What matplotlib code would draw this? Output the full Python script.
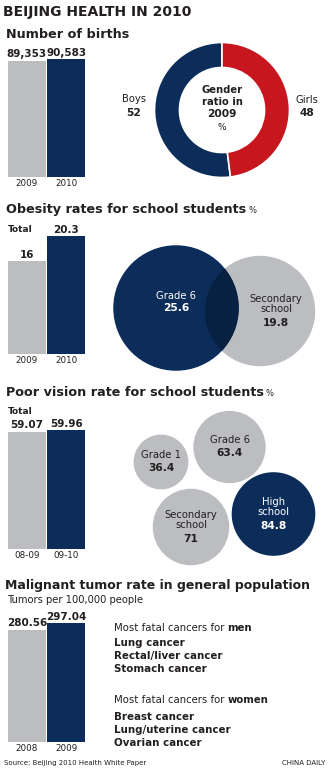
import numpy as np
import matplotlib
matplotlib.use('Agg')
import matplotlib.pyplot as plt
from matplotlib.patches import Circle

W, H = 329, 771

NAVY = '#0c2d5a'
GRAY = '#bcbdc0'
RED = '#c7161d'
DARK = '#072143'
TXT = '#231f20'

# --- dane ---
birth_years = ['2009', '2010']
births = [89353, 90583]
birth_labels = ['89,353', '90,583']
gender = ['Boys', 'Girls']
gender_pct = [52, 48]

obesity_years = ['2009', '2010']
obesity_total = [16, 20.3]
obesity_groups = ['Grade 6', 'Secondary\nschool']
obesity_vals = [25.6, 19.8]

vision_years = ['08-09', '09-10']
vision_total = [59.07, 59.96]
vision_groups = ['Grade 1', 'Grade 6', 'Secondary\nschool', 'High\nschool']
vision_vals = [36.4, 63.4, 71, 84.8]

tumor_years = ['2008', '2009']
tumor_rate = [280.56, 297.04]
men_cancers = ['Lung cancer', 'Rectal/liver cancer', 'Stomach cancer']
women_cancers = ['Breast cancer', 'Lung/uterine cancer', 'Ovarian cancer']

plt.rcParams['font.family'] = 'DejaVu Sans'

fig = plt.figure(figsize=(W / 100, H / 100), dpi=100)
fig.patch.set_facecolor('white')


def px_axes(x0, y0, x1, y1):
    return fig.add_axes([x0 / W, 1 - y1 / H, (x1 - x0) / W, (y1 - y0) / H])


bg = px_axes(0, 0, W, H)
bg.set_xlim(0, W)
bg.set_ylim(H, 0)
bg.axis('off')


def txt(x, y, s, size=7, bold=False, color=TXT, ha='left', **kw):
    return bg.text(x, y, s, fontsize=size, fontweight='bold' if bold else 'normal',
                   color=color, ha=ha, va='center', **kw)


def title(x, y, s, unit=None, size=9.1):
    t = txt(x, y, s, size=size, bold=True)
    if unit:
        bg.annotate(unit, xy=(1, 0.12), xycoords=t, xytext=(1.5, 0), textcoords='offset points',
                    fontsize=6, color=TXT, ha='left', va='bottom')
    return t


def bars(y_top, y_bot, vals, labels, years):
    ax = px_axes(7, y_top, 86, y_bot)
    ax.bar([0, 1], vals, width=0.962, color=[GRAY, NAVY])
    ax.set_xlim(-0.5, 1.5)
    ax.set_ylim(0, max(vals))
    ax.axis('off')
    for i, v in enumerate(vals):
        ax.annotate(labels[i], (i, v), xytext=(0, 1), textcoords='offset points', ha='center',
                    va='bottom', fontsize=7.5, fontweight='bold', color=TXT, annotation_clip=False)
        ax.annotate(years[i], (i, 0), xytext=(0, -1.5), textcoords='offset points', ha='center',
                    va='top', fontsize=6.3, color=TXT, annotation_clip=False)
    return ax


def bubble(cx, cy, val, k, color, name, fg, value_text):
    c = Circle((cx, cy), k * np.sqrt(val), facecolor=color, edgecolor='none')
    bg.add_patch(c)
    n_lines = name.count('\n') + 1
    if n_lines == 1:
        txt(cx, cy - 7, name, size=7.2, color=fg, ha='center')
        txt(cx, cy + 6, value_text, size=7.7, bold=True, color=fg, ha='center')
    else:
        txt(cx, cy - 7, name, size=7.2, color=fg, ha='center', linespacing=1.0)
        txt(cx, cy + 12, value_text, size=7.7, bold=True, color=fg, ha='center')
    return c


# ---------- sekcja 1: urodzenia ----------
txt(3, 12, 'BEIJING HEALTH IN 2010', size=10, bold=True)
title(6, 34, 'Number of births', size=9.2)
bars(59, 177, births, birth_labels, birth_years)

axd = px_axes(222 - 67.5, 110 - 67.5, 222 + 67.5, 110 + 67.5)
axd.pie(gender_pct, colors=[NAVY, RED], startangle=90, counterclock=True,
        wedgeprops=dict(width=0.37, edgecolor='white', linewidth=1.2))
axd.set_xlim(-1, 1)
axd.set_ylim(-1, 1)
axd.set_aspect('equal')

txt(222, 90, 'Gender', size=7.2, bold=True, ha='center')
txt(222, 102, 'ratio in', size=7.2, bold=True, ha='center')
txt(222, 114, '2009', size=7.7, bold=True, ha='center')
txt(222, 128, '%', size=6.5, ha='center')
txt(134, 99, gender[0], size=7.2, ha='center')
txt(134, 113, str(gender_pct[0]), size=7.7, bold=True, ha='center')
txt(307, 100, gender[1], size=7.2, ha='center')
txt(307, 113, str(gender_pct[1]), size=7.7, bold=True, ha='center')

# ---------- sekcja 2: otylosc ----------
title(6, 210, 'Obesity rates for school students', '%', size=9.2)
txt(8, 230, 'Total', size=6.5, bold=True)
bars(236, 354, obesity_total, [f'{v:g}' for v in obesity_total], obesity_years)

k_venn = 12.4
g_circle = Circle((260, 311), k_venn * np.sqrt(obesity_vals[1]), facecolor=GRAY, edgecolor='none')
bg.add_patch(g_circle)
n_circle = Circle((176, 308), k_venn * np.sqrt(obesity_vals[0]), facecolor=NAVY, edgecolor='none')
bg.add_patch(n_circle)
overlap = Circle((176, 308), k_venn * np.sqrt(obesity_vals[0]), facecolor=DARK, edgecolor='none')
bg.add_patch(overlap)
overlap.set_clip_path(g_circle)

txt(176, 296, obesity_groups[0], size=7.2, color='white', ha='center')
txt(176, 308, f'{obesity_vals[0]:g}', size=7.7, bold=True, color='white', ha='center')
txt(276, 304, obesity_groups[1], size=7.2, ha='center', linespacing=1.0)
txt(276, 323, f'{obesity_vals[1]:g}', size=7.7, bold=True, ha='center')

# ---------- sekcja 3: wzrok ----------
title(6, 393, 'Poor vision rate for school students', '%', size=9.2)
txt(8, 411, 'Total', size=6.5, bold=True)
bars(430, 549, vision_total, [f'{v:.2f}' for v in vision_total], vision_years)

k_bub = 4.54
bub_pos = [(161, 462), (229.5, 447), (191, 527), (273.5, 514)]
bub_col = [GRAY, GRAY, GRAY, NAVY]
bub_fg = [TXT, TXT, TXT, 'white']
for (cx, cy), v, c, fg, name in zip(bub_pos, vision_vals, bub_col, bub_fg, vision_groups):
    bubble(cx, cy, v, k_bub, c, name, fg, f'{v:g}')

# ---------- sekcja 4: nowotwory ----------
title(5, 586, 'Malignant tumor rate in general population', size=9.0)
txt(7, 600, 'Tumors per 100,000 people', size=7.2)
bars(623, 742, tumor_rate, [f'{v:.2f}' for v in tumor_rate], tumor_years)


def mixed(x, y, s1, s2):
    t = txt(x, y, s1, size=7.3)
    bg.annotate(s2, xy=(1, 0.5), xycoords=t, xytext=(0, 0), textcoords='offset points',
                fontsize=7.3, fontweight='bold', color=TXT, ha='left', va='center')


mixed(114, 628, 'Most fatal cancers for ', 'men')
for i, s in enumerate(men_cancers):
    txt(114, 643 + i * 13, s, size=7.4, bold=True)
mixed(114, 700, 'Most fatal cancers for ', 'women')
for i, s in enumerate(women_cancers):
    txt(114, 717 + i * 13, s, size=7.4, bold=True)

txt(4, 763, 'Source: Beijing 2010 Health White Paper', size=5)
txt(325, 763, 'CHINA DAILY', size=5, ha='right')

fig.savefig('out.png', dpi=100, facecolor='white')
